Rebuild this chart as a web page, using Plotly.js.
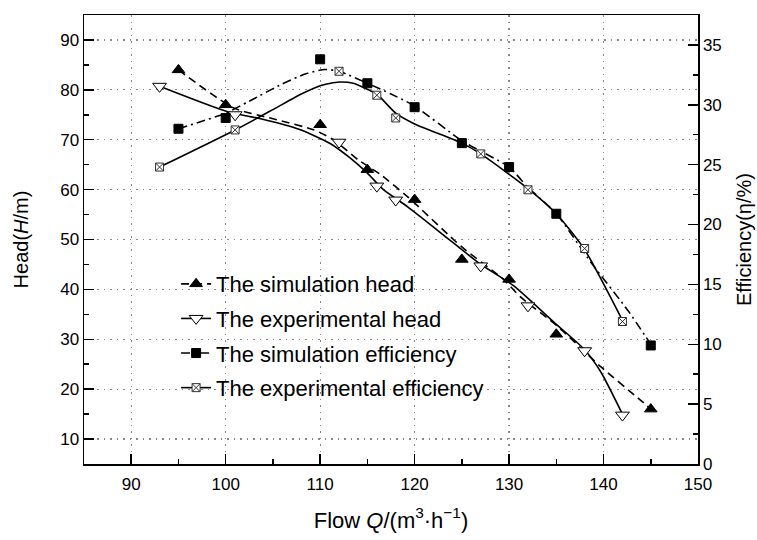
<!DOCTYPE html>
<html>
<head>
<meta charset="utf-8">
<script src="https://cdn.plot.ly/plotly-3.0.1.min.js"></script>
<style>html,body{margin:0;padding:0;background:#fff;}#chart{width:757px;height:540px;}</style>
</head>
<body>
<div id="chart"></div>
<script>
// Measured points
const flowSimHead = [95, 100, 110, 115, 120, 125, 130, 135, 145];
const headSim = [84, 77, 73, 64, 58, 46, 42, 31, 16];
const flowExpHead = [93, 101, 112, 116, 118, 127, 132, 138, 142];
const headExp = [80.7, 75, 69.5, 60.7, 57.9, 44.7, 36.7, 27.7, 14.8];
const flowSimEff = [95, 100, 110, 115, 120, 125, 130, 135, 145];
const effSim = [28, 28.9, 33.8, 31.8, 29.8, 26.8, 24.8, 20.9, 9.9];
const flowExpEff = [93, 101, 112, 116, 118, 127, 132, 138, 142];
const effExp = [24.8, 27.9, 32.8, 30.8, 28.9, 25.9, 22.9, 18, 11.9];

// Fitted curves
const simHeadCurveX = [95, 100.8, 105, 109.3, 111.4, 114, 116.4, 119.3, 125, 129.4, 131.2, 135.2, 139.7, 143.6, 145];
const simHeadCurveY = [84, 76.4, 74.2, 72, 70, 66, 63, 58.5, 48.5, 42, 38.5, 32.5, 24.5, 18.3, 16];
const expHeadCurveX = [93, 100.2, 103.7, 107.9, 111.1, 113.2, 115, 116.7, 119.3, 123, 127, 130.5, 134.7, 137.9, 139.7, 142];
const expHeadCurveY = [80.7, 75.6, 74.2, 72, 69.2, 66.3, 63.3, 60, 56.5, 51, 45, 40.7, 33.5, 28.1, 23.5, 15];
const simEffCurveX = [95, 97, 100, 102.5, 106, 108.5, 110.5, 112, 115, 117.5, 120, 125, 130, 132, 135, 138.7, 142.6, 145];
const simEffCurveY = [28, 28.5, 29.3, 30.3, 31.75, 32.6, 32.95, 32.8, 31.8, 30.9, 29.9, 27, 24.8, 23.1, 20.9, 16.8, 12.8, 10];
const expEffCurveX = [93, 101, 105, 108, 110, 112, 113.5, 115, 116, 118, 120, 125, 127, 132, 135, 138, 142];
const expEffCurveY = [24.8, 27.9, 29.6, 30.9, 31.6, 31.9, 31.8, 31.3, 30.9, 29.3, 28.4, 26.8, 25.9, 23, 20.9, 17.9, 12];

const seriesNames = ['The simulation head', 'The experimental head', 'The simulation efficiency', 'The experimental efficiency'];

const FONT = 'Arial, "Liberation Sans", sans-serif';

const styles = [
  {dash: '8px,5px', width: 1.6, marker: {symbol: 'triangle-up', size: 11, color: '#000', line: {color: '#000', width: 1}}, axis: 'y'},
  {dash: 'solid', width: 1.6, marker: {symbol: 'triangle-down', size: 12, color: '#fff', line: {color: '#000', width: 1}}, axis: 'y'},
  {dash: '9px,4px,2px,4px', width: 1.6, marker: {symbol: 'square', size: 9, color: '#000', line: {color: '#000', width: 1}}, axis: 'y2'},
  {dash: 'solid', width: 1.6, marker: {symbol: 'square-x', size: 8, color: '#fff', line: {color: '#333', width: 1}}, axis: 'y2'}
];
const curves = [[simHeadCurveX, simHeadCurveY], [expHeadCurveX, expHeadCurveY], [simEffCurveX, simEffCurveY], [expEffCurveX, expEffCurveY]];
const points = [[flowSimHead, headSim], [flowExpHead, headExp], [flowSimEff, effSim], [flowExpEff, effExp]];

const traces = [];
curves.forEach((c, i) => {
  traces.push({x: c[0], y: c[1], yaxis: styles[i].axis, mode: 'lines', showlegend: false, hoverinfo: 'skip',
    line: {color: '#000', width: styles[i].width, dash: styles[i].dash, shape: 'spline', smoothing: 0.6}});
});
points.forEach((p, i) => {
  traces.push({x: p[0], y: p[1], yaxis: styles[i].axis, mode: 'markers', showlegend: false, marker: styles[i].marker, cliponaxis: false});
});
// legend entries (no drawn data)
seriesNames.forEach((n, i) => {
  traces.push({x: [null], y: [null], yaxis: styles[i].axis, mode: 'lines+markers', name: n, legendgroup: 'g' + i,
    line: {color: '#000', width: styles[i].width, dash: styles[i].dash}, marker: styles[i].marker});
});

const layout = {
  width: 757, height: 540,
  margin: {l: 84, r: 59, t: 15, b: 76},
  paper_bgcolor: '#fff', plot_bgcolor: '#fff',
  font: {family: FONT, color: '#000', size: 16},
  showlegend: true,
  legend: {x: 0.15, y: 0.285, xanchor: 'left', yanchor: 'middle', bgcolor: 'rgba(0,0,0,0)',
    font: {family: FONT, size: 22, color: '#000'}, tracegroupgap: 3, itemwidth: 30},
  xaxis: {
    range: [85, 150], dtick: 10, tick0: 0,
    showline: true, linecolor: '#000', linewidth: 1.5, mirror: true,
    ticks: 'inside', ticklen: 10, tickwidth: 1.5, tickcolor: '#000',
    minor: {ticks: 'inside', ticklen: 5, dtick: 5, tickwidth: 1.5, tickcolor: '#000', showgrid: false},
    showgrid: true, gridcolor: '#888', griddash: '1.5px,5px', gridwidth: 1.2,
    zeroline: false, ticklabelstandoff: 4,
    tickfont: {family: FONT, size: 17, color: '#000'},
    title: {text: 'Flow <i>Q</i>/(m<sup>3</sup>·h<sup>−1</sup>)', font: {family: FONT, size: 22, color: '#000'}, standoff: 19}
  },
  yaxis: {
    range: [5, 95], dtick: 10, tick0: 0,
    showline: true, linecolor: '#000', linewidth: 1.5,
    ticks: 'inside', ticklen: 10, tickwidth: 1.5, tickcolor: '#000',
    minor: {ticks: 'inside', ticklen: 5, dtick: 5, tickwidth: 1.5, tickcolor: '#000', showgrid: false},
    showgrid: true, gridcolor: '#888', griddash: '1.5px,5px', gridwidth: 1.2,
    zeroline: false,
    tickfont: {family: FONT, size: 17, color: '#000'},
    title: {text: 'Head(<i>H</i>/m)', font: {family: FONT, size: 20, color: '#000'}, standoff: 26}
  },
  yaxis2: {
    overlaying: 'y', side: 'right',
    range: [0, 37.5], dtick: 5, tick0: 0,
    showline: true, linecolor: '#000', linewidth: 1.5,
    ticks: 'inside', ticklen: 10, tickwidth: 1.5, tickcolor: '#000',
    minor: {ticks: 'inside', ticklen: 5, dtick: 2.5, tickwidth: 1.5, tickcolor: '#000', showgrid: false},
    showgrid: false, zeroline: false,
    tickfont: {family: FONT, size: 17, color: '#000'},
    title: {text: 'Efficiency(η/%)', font: {family: FONT, size: 20, color: '#000'}, standoff: 16}
  }
};

Plotly.newPlot('chart', traces, layout, {displayModeBar: false, staticPlot: true});
</script>
</body>
</html>
